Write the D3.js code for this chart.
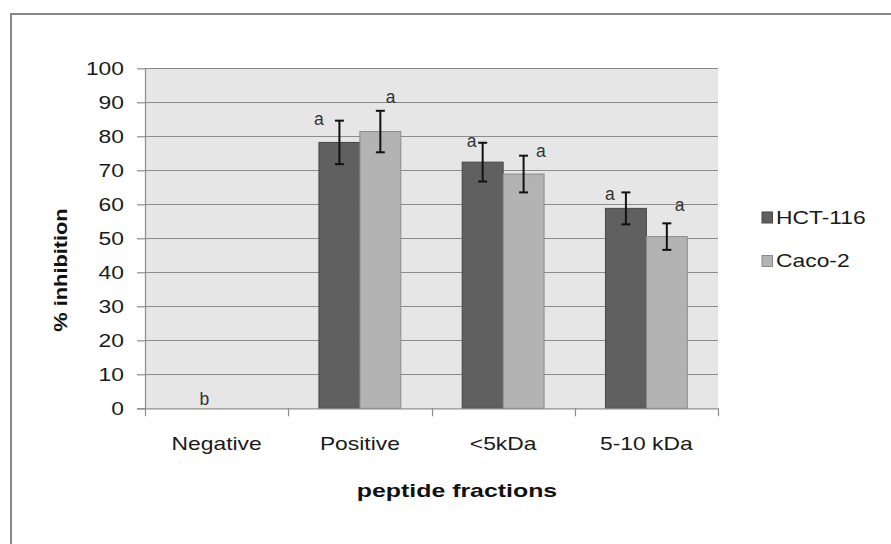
<!DOCTYPE html>
<html>
<head>
<meta charset="utf-8">
<script src="https://cdn.jsdelivr.net/npm/d3@7"></script>
<style>
  html, body { margin: 0; padding: 0; background: #fff; }
  svg { display: block; font-family: "Liberation Sans", Arial, sans-serif; }
</style>
</head>
<body>
<svg id="chart" width="891" height="544"></svg>
<script>
// ---- data ----
const categories = ["Negative", "Positive", "<5kDa", "5-10 kDa"];
const seriesNames = ["HCT-116", "Caco-2"];
const hctValues = [0, 78.2, 72.4, 58.8];
const cacoValues = [0, 81.4, 68.9, 50.5];
const hctErrors = [0, 6.4, 5.7, 4.7];
const cacoErrors = [0, 6.1, 5.4, 3.9];
const yTicks = [0, 10, 20, 30, 40, 50, 60, 70, 80, 90, 100];
// significance letters (per series, per category), with the value of their baseline
const hctLetters = ["b", "a", "a", "a"];
const cacoLetters = ["", "a", "a", "a"];
const hctLetterY = [1.0, 83.3, 76.9, 61.3];
const cacoLetterY = [0, 89.8, 73.8, 58.0];
// horizontal letter offsets, in bar widths from bar centre (layout)
const hctLetterDx = [0.2, -0.5, -0.27, -0.39];
const cacoLetterDx = [0, 0.25, 0.42, 0.31];

const colors = { "HCT-116": "#606060", "Caco-2": "#b3b3b3" };
const strokes = { "HCT-116": "#474747", "Caco-2": "#8a8a8a" };
const SX = 1.27; // horizontal text stretch of the original rendering

const svg = d3.select("#chart");
const pLeft = 145, pRight = 718, pTop = 68.3, pBottom = 408.3;

// outer chart border
svg.append("rect").attr("x", 11).attr("y", 14).attr("width", 900).attr("height", 600)
  .attr("fill", "#fff").attr("stroke", "#878787").attr("stroke-width", 2);

const x0 = d3.scaleBand().domain(categories).range([pLeft, pRight]).paddingInner(0).paddingOuter(0);
const x1 = d3.scaleBand().domain(seriesNames).range([0, x0.bandwidth()]).paddingInner(0).paddingOuter(0.75);
const y = d3.scaleLinear().domain([0, 100]).range([pBottom, pTop]);

// plot background
svg.append("rect").attr("x", pLeft).attr("y", pTop).attr("width", pRight - pLeft).attr("height", pBottom - pTop)
  .attr("fill", "#e6e6e6");

// gridlines
svg.append("g").selectAll("line").data(yTicks.filter(d => d > 0)).join("line")
  .attr("x1", pLeft).attr("x2", pRight)
  .attr("y1", d => Math.round(y(d)) + 0.5).attr("y2", d => Math.round(y(d)) + 0.5)
  .attr("stroke", "#8c8c8c").attr("stroke-width", 1.2);

// y axis
const yAxis = svg.append("g").attr("transform", `translate(${pLeft},0)`)
  .call(d3.axisLeft(y).tickValues(yTicks).tickSize(8).tickPadding(13).tickFormat(d3.format("d")));
yAxis.select(".domain").attr("stroke", "#8c8c8c").attr("stroke-width", 1.2).attr("d", `M0.5,${pTop}V${pBottom}`);
yAxis.selectAll(".tick line").attr("stroke", "#8c8c8c").attr("stroke-width", 1.2);
yAxis.selectAll(".tick text").attr("font-size", 18).attr("fill", "#1a1a1a")
  .attr("font-family", "Liberation Sans, Arial, sans-serif").attr("dy", "0.36em");
yAxis.selectAll(".tick text").each(function () {
  const t = d3.select(this);
  t.attr("transform", `translate(${t.attr("x")},0) scale(${SX},1)`).attr("x", 0);
});

// bars
const series = [
  { name: "HCT-116", values: hctValues, errors: hctErrors, letters: hctLetters, ly: hctLetterY, ldx: hctLetterDx },
  { name: "Caco-2", values: cacoValues, errors: cacoErrors, letters: cacoLetters, ly: cacoLetterY, ldx: cacoLetterDx }
];
const bw = x1.bandwidth();
series.forEach(s => {
  const g = svg.append("g");
  g.selectAll("rect").data(categories.map((c, i) => ({ c, v: s.values[i] })).filter(d => d.v > 0)).join("rect")
    .attr("x", d => x0(d.c) + x1(s.name)).attr("width", bw)
    .attr("y", d => y(d.v)).attr("height", d => y(0) - y(d.v))
    .attr("fill", colors[s.name]).attr("stroke", strokes[s.name]).attr("stroke-width", 1);
});

// x axis line + category boundary ticks
const xAxisG = svg.append("g");
xAxisG.append("line").attr("x1", pLeft - 8).attr("x2", pRight).attr("y1", pBottom + 0.5).attr("y2", pBottom + 0.5)
  .attr("stroke", "#8c8c8c").attr("stroke-width", 1.2);
const bounds = categories.map(c => x0(c)).concat([x0.range()[1]]);
xAxisG.selectAll("line.tk").data(bounds).join("line").attr("class", "tk")
  .attr("x1", d => Math.round(d) + 0.5).attr("x2", d => Math.round(d) + 0.5)
  .attr("y1", pBottom).attr("y2", pBottom + 8)
  .attr("stroke", "#8c8c8c").attr("stroke-width", 1.2);

// category labels via band axis
const xLab = svg.append("g").attr("transform", `translate(0,${pBottom})`)
  .call(d3.axisBottom(x0).tickSize(0).tickPadding(0));
xLab.select(".domain").remove();
xLab.selectAll(".tick text").attr("font-size", 18).attr("fill", "#1a1a1a")
  .attr("font-family", "Liberation Sans, Arial, sans-serif")
  .attr("y", 41.5).attr("dy", 0);
xLab.selectAll(".tick text").each(function () {
  const t = d3.select(this);
  t.attr("transform", `translate(0,${t.attr("y")}) scale(${SX},1)`).attr("y", 0);
});

// error bars
series.forEach(s => {
  const g = svg.append("g");
  categories.forEach((c, i) => {
    if (s.errors[i] <= 0) return;
    const cx = x0(c) + x1(s.name) + bw / 2;
    const eTop = y(s.values[i] + s.errors[i]), eBot = y(s.values[i] - s.errors[i]);
    g.append("line").attr("x1", cx).attr("x2", cx).attr("y1", eTop).attr("y2", eBot)
      .attr("stroke", "#111").attr("stroke-width", 2);
    [eTop, eBot].forEach(yy => g.append("line").attr("x1", cx - 4.5).attr("x2", cx + 4.5)
      .attr("y1", yy).attr("y2", yy).attr("stroke", "#111").attr("stroke-width", 2));
  });
});

// significance letters
series.forEach(s => {
  categories.forEach((c, i) => {
    if (!s.letters[i]) return;
    const cx = x0(c) + x1(s.name) + bw / 2 + s.ldx[i] * bw;
    svg.append("text").attr("x", cx).attr("y", y(s.ly[i]))
      .attr("text-anchor", "middle").attr("font-size", 17.5).attr("fill", "#333")
      .text(s.letters[i]);
  });
});

// axis titles
svg.append("text").attr("text-anchor", "middle").attr("font-size", 18).attr("font-weight", "bold")
  .attr("fill", "#111")
  .attr("transform", `translate(67,270) rotate(-90) scale(1.21,1)`).text("% inhibition");
svg.append("text").attr("text-anchor", "middle").attr("font-size", 19).attr("font-weight", "bold")
  .attr("fill", "#111")
  .attr("transform", `translate(457,497) scale(1.31,1)`).text("peptide fractions");

// legend
const leg = svg.append("g");
seriesNames.forEach((n, i) => {
  const ly = 217.5 + i * 43.5;
  leg.append("rect").attr("x", 762).attr("y", ly - 5.5).attr("width", 10.5).attr("height", 11)
    .attr("fill", colors[n]).attr("stroke", strokes[n]).attr("stroke-width", 1);
  leg.append("text").attr("transform", `translate(776,${ly}) scale(${SX},1)`)
    .attr("dy", "0.36em").attr("font-size", 18).attr("fill", "#1a1a1a").text(n);
});
</script>
</body>
</html>
